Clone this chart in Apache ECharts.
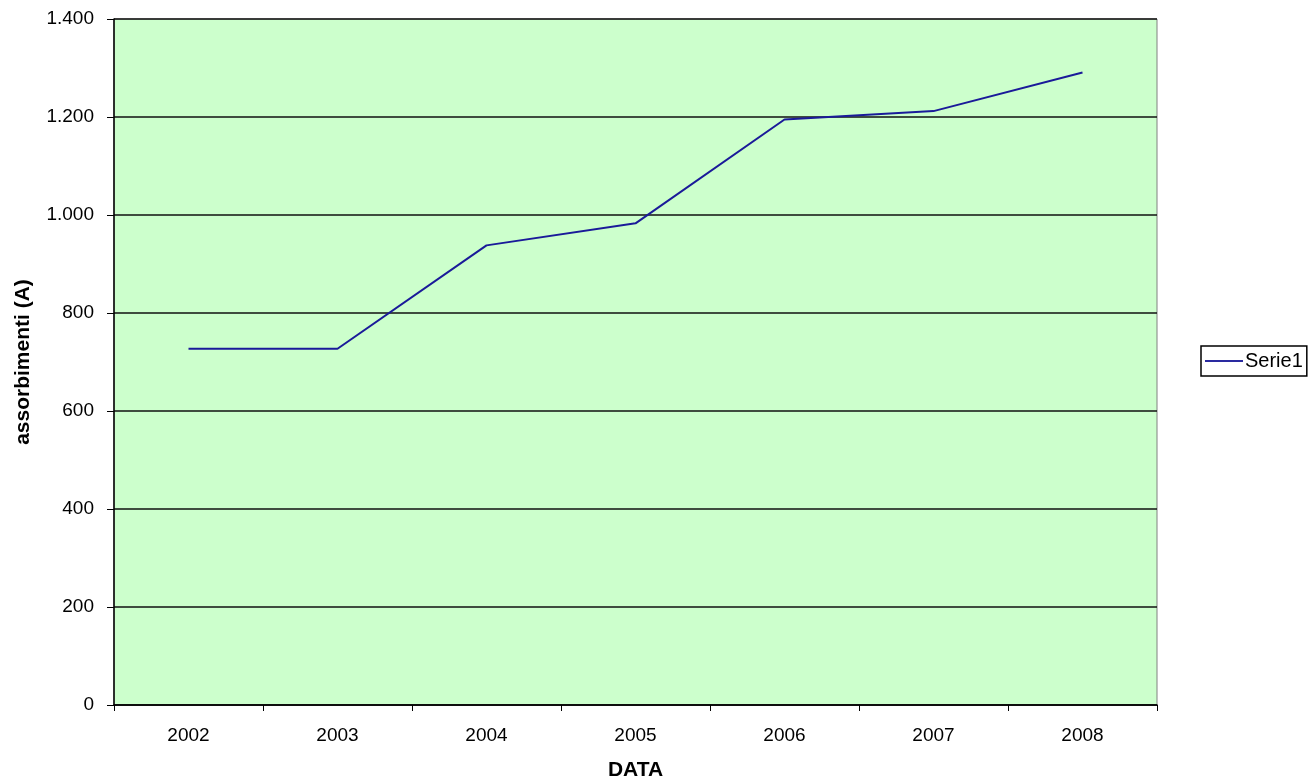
<!DOCTYPE html>
<html><head><meta charset="utf-8">
<script src="https://cdn.jsdelivr.net/npm/echarts@6/dist/echarts.min.js"></script>
<style>html,body{margin:0;padding:0;background:#fff}#c{width:1314px;height:780px}</style>
</head><body><div id="c"></div>
<script>
const categories = ['2002','2003','2004','2005','2006','2007','2008'];
const serie1 = [727, 727, 938, 983, 1195, 1212, 1291];
const seriesName = 'Serie1';
const xName = 'DATA';
const yName = 'assorbimenti (A)';

const chart = echarts.init(document.getElementById('c'));
const font = '"Liberation Sans", Arial, sans-serif';
chart.setOption({
  animation: false,
  textStyle: { fontFamily: font },
  grid: { left: 114, right: 157, top: 19, bottom: 75, outerBoundsMode: 'none', containLabel: false, show: true, backgroundColor: '#CCFFCC', borderColor: '#808080', borderWidth: 1 },
  legend: {
    left: 1201, top: 346, orient: 'vertical',
    borderColor: '#000', borderWidth: 1.5, padding: [5, 4, 5, 4],
    itemWidth: 38, itemHeight: 20, itemGap: 0,
    textStyle: { fontFamily: font, fontSize: 20, color: '#000', padding: [0,0,0,-3] },
    data: [{ name: seriesName, icon: 'path://M0,9L38,9L38,11L0,11Z', itemStyle: { color: '#2a2aa0' } }]
  },
  xAxis: {
    type: 'category', data: categories, boundaryGap: true,
    name: xName, nameLocation: 'middle', nameGap: 55,
    nameTextStyle: { fontFamily: font, fontSize: 21, fontWeight: 'bold', color: '#000' },
    axisLine: { lineStyle: { color: '#000', width: 1.5 } },
    axisTick: { show: true, length: 6, lineStyle: { color: '#000' }, alignWithLabel: false },
    axisLabel: { color: '#000', fontSize: 19, margin: 21, fontFamily: font }
  },
  yAxis: {
    type: 'value', min: 0, max: 1400, interval: 200,
    name: yName, nameLocation: 'middle', nameGap: 80, nameRotate: 90,
    nameTextStyle: { fontFamily: font, fontSize: 21, fontWeight: 'bold', color: '#000' },
    axisLine: { show: true, lineStyle: { color: '#000', width: 1.5 } },
    axisTick: { show: true, length: 7, lineStyle: { color: '#000' } },
    axisLabel: { color: '#000', fontSize: 19, margin: 20, fontFamily: font,
      formatter: v => String(v).replace(/\B(?=(\d{3})+(?!\d))/g, '.') },
    splitLine: { show: true, lineStyle: { color: '#111', width: 1.5 } }
  },
  series: [{
    name: seriesName, type: 'line', data: serie1, symbol: 'none',
    lineStyle: { color: '#1a1a99', width: 2 }, itemStyle: { color: '#1a1a99' }
  }]
});
</script></body></html>
